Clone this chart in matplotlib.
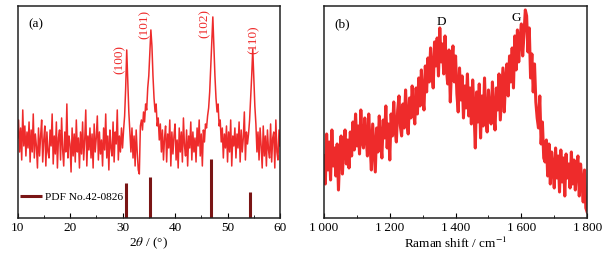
import matplotlib
matplotlib.use("Agg")
import matplotlib.pyplot as plt
import numpy as np

plt.rcParams['font.family'] = ['Liberation Serif', 'DejaVu Serif']
plt.rcParams['mathtext.fontset'] = 'stix'

# XRD pattern, 2theta from 10 to 60 deg in 0.2 deg steps (arbitrary intensity)
xrd_start, xrd_step = 10.0, 0.2
xrd_intensity = [
    80, 98, 66, 90, 58, 108, 72, 92, 62, 86,
    70, 96, 56, 88, 66, 104, 60, 84, 72, 50,
    90, 62, 82, 98, 56, 78, 92, 52, 86, 66,
    60, 88, 72, 104, 54, 82, 64, 96, 50, 80,
    88, 58, 100, 68, 52, 86, 66, 114, 60, 82,
    74, 46, 90, 62, 84, 56, 98, 66, 80, 50,
    86, 64, 96, 58, 78, 108, 52, 82, 68, 90,
    60, 84, 50, 94, 66, 80, 102, 58, 86, 64,
    78, 52, 90, 68, 104, 60, 82, 48, 88, 70,
    62, 96, 56, 86, 74, 108, 58, 82, 66, 90,
    70, 88, 102, 130, 168, 136, 106, 86, 66, 90,
    60, 82, 52, 88, 66, 48, 44, 92, 98, 88,
    106, 96, 114, 108, 130, 142, 164, 188, 172, 142,
    120, 106, 114, 92, 100, 78, 94, 66, 88, 58,
    80, 92, 56, 84, 70, 98, 52, 86, 64, 82,
    94, 58, 78, 50, 90, 66, 86, 56, 100, 72,
    62, 88, 52, 82, 70, 96, 58, 86, 66, 80,
    56, 90, 72, 98, 62, 84, 52, 88, 76, 94,
    90, 102, 110, 126, 152, 176, 201, 172, 142, 120,
    106, 114, 92, 98, 76, 90, 60, 84, 70, 92,
    56, 86, 66, 98, 52, 82, 72, 90, 60, 84,
    70, 96, 56, 88, 66, 80, 106, 58, 86, 74,
    84, 98, 120, 142, 169, 140, 112, 94, 66, 86,
    58, 90, 72, 50, 92, 62, 82, 52, 88, 68,
    60, 94, 56, 80, 86, 50, 98, 66, 58, 88,
    72,
]

# reference card PDF No.42-0826
pdf_pos = [30.6, 35.2, 46.9, 54.3]
pdf_height = [35, 41, 59, 26]

# peak labels
peak_names = ["(100)", "(101)", "(102)", "(110)"]
peak_label_x = [29.5, 34.3, 45.7, 54.9]
peak_label_y = [158, 194, 194, 178]

# Raman spectrum, 1000 to 1800 cm-1 in 4 cm-1 steps
raman_start, raman_step = 1000, 4
raman_intensity = [
    62, 34, 84, 48, 76, 38, 88, 52, 70, 42,
    74, 28, 66, 82, 44, 70, 88, 54, 78, 50,
    86, 62, 96, 68, 104, 72, 92, 64, 108, 76,
    70, 100, 82, 62, 104, 74, 48, 94, 70, 46,
    90, 66, 102, 78, 60, 98, 80, 112, 70, 94,
    58, 104, 82, 116, 88, 76, 108, 122, 92, 82,
    114, 90, 128, 96, 84, 120, 100, 132, 108, 94,
    130, 104, 140, 112, 148, 120, 108, 152, 126, 160,
    136, 170, 146, 130, 176, 152, 180, 142, 190, 156,
    174, 144, 182, 150, 134, 168, 116, 154, 172, 136,
    162, 124, 106, 150, 118, 142, 100, 132, 110, 144,
    102, 130, 94, 138, 108, 70, 126, 96, 134, 80,
    122, 92, 140, 100, 86, 128, 106, 94, 136, 104,
    88, 130, 108, 144, 98, 124, 150, 106, 138, 154,
    122, 162, 136, 170, 130, 182, 148, 188, 156, 180,
    194, 162, 184, 208, 202, 166, 190, 140, 164, 126,
    154, 116, 100, 90, 122, 74, 96, 60, 56, 78,
    42, 74, 34, 66, 50, 30, 70, 40, 62, 26,
    68, 36, 60, 22, 64, 40, 54, 30, 66, 34,
    58, 28, 52, 62, 22, 54, 36, 16, 48, 10,
    6,
]
raman_bands = ["D", "G"]
raman_band_x = [1356, 1584]
raman_band_y = [196, 200]

red = '#ee2b2b'
fs = 9.5

fig = plt.figure(figsize=(6.12, 2.58), dpi=100)
ax1 = fig.add_axes([0.0286, 0.155, 0.429, 0.822])
ax2 = fig.add_axes([0.5294, 0.155, 0.430, 0.822])

# (a) XRD
x_xrd = xrd_start + xrd_step * np.arange(len(xrd_intensity))
ax1.plot(x_xrd, xrd_intensity, color=red, lw=1.1)
ax1.vlines(pdf_pos, 0, pdf_height, color='#7a1515', lw=2.2, label='PDF No.42-0826')
for name, px, py in zip(peak_names, peak_label_x, peak_label_y):
    ax1.text(px, py, name, rotation=90, color=red, fontsize=fs,
             ha='center', va='center')
ax1.text(0.04, 0.9, "(a)", transform=ax1.transAxes, fontsize=fs)
ax1.set_xlim(10, 60)
ax1.set_ylim(0, 212)
ax1.set_xticks([10, 20, 30, 40, 50, 60])
ax1.set_xticks(np.arange(15, 60, 10), minor=True)
ax1.set_xlabel(r"2$\theta$ / (°)", fontsize=fs, labelpad=1)
ax1.legend(loc='center left', bbox_to_anchor=(-0.03, 0.1), frameon=False,
           fontsize=8.2, handlelength=1.9, handletextpad=0.3)

# (b) Raman
x_raman = raman_start + raman_step * np.arange(len(raman_intensity))
ax2.plot(x_raman, raman_intensity, color=red, lw=2.2)
for name, px, py in zip(raman_bands, raman_band_x, raman_band_y):
    ax2.text(px, py, name, fontsize=fs, ha='center', va='center')
ax2.text(0.04, 0.9, "(b)", transform=ax2.transAxes, fontsize=fs)
ax2.set_xlim(1000, 1800)
ax2.set_ylim(0, 212)
ax2.set_xticks([1000, 1200, 1400, 1600, 1800])
ax2.set_xticklabels(["1\u2009000", "1\u2009200", "1\u2009400", "1\u2009600", "1\u2009800"])
ax2.set_xticks([1100, 1300, 1500, 1700], minor=True)
ax2.set_xlabel(r"Raman shift / cm$^{-1}$", fontsize=fs, labelpad=1)

for ax in (ax1, ax2):
    ax.set_yticks([])
    for s in ax.spines.values():
        s.set_linewidth(1.1)
        s.set_color('#222222')
    ax.tick_params(axis='x', which='both', direction='in', labelsize=fs, pad=3)
    ax.tick_params(axis='x', which='major', length=3.5)
    ax.tick_params(axis='x', which='minor', length=2.5)

fig.savefig("out.png", dpi=100)
